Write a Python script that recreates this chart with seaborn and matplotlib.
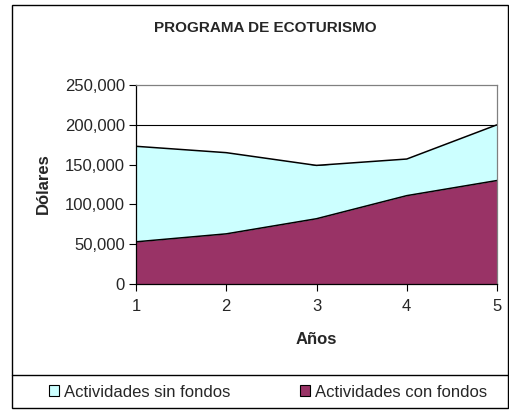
import matplotlib
matplotlib.use('Agg')
import matplotlib.pyplot as plt
import seaborn as sns
import pandas as pd
from matplotlib.patches import Rectangle
from matplotlib.lines import Line2D
from matplotlib.ticker import FuncFormatter

anios = [1, 2, 3, 4, 5]
sin_fondos = [173000, 165000, 149000, 157000, 200000]
con_fondos = [53000, 63000, 82000, 111000, 130000]
series = ['Actividades sin fondos', 'Actividades con fondos']
colores = ['#CCFFFF', '#993366']

df = pd.DataFrame({'anio': anios, series[0]: sin_fondos, series[1]: con_fondos})
largo = df.melt(id_vars='anio', var_name='serie', value_name='dolares')

sns.set_style('white')
plt.rcParams['font.family'] = ['Liberation Sans', 'DejaVu Sans']

fig = plt.figure(figsize=(5.1, 4.11), dpi=100)
ax = fig.add_axes([136/510, 1-284/411, (497-136)/510, (284-85)/411])

# grid lines behind the areas
for v in [50000, 100000, 150000, 200000]:
    ax.axhline(v, color='black', lw=0.8, zorder=0)

for s, c in zip(series, colores):
    ax.fill_between(df['anio'], df[s], 0, color=c, lw=0, zorder=1)
sns.lineplot(data=largo, x='anio', y='dolares', hue='serie', palette=['black', 'black'],
             lw=1.1, legend=False, ax=ax, zorder=2)

ax.set_xlim(1, 5)
ax.set_ylim(0, 250000)
ax.set_xticks(anios)
ax.set_yticks(range(0, 250001, 50000))
ax.yaxis.set_major_formatter(FuncFormatter(lambda v, p: f'{int(v):,}'))
ax.tick_params(axis='both', direction='out', length=5, width=0.8, color='black',
               labelsize=12, pad=3, left=True, bottom=True)
ax.tick_params(axis='x', pad=6)
for sp in ['left', 'bottom']:
    ax.spines[sp].set_color('black')
    ax.spines[sp].set_linewidth(0.9)
for sp in ['top', 'right']:
    ax.spines[sp].set_color('#808080')
    ax.spines[sp].set_linewidth(0.9)
ax.set_xlabel('')
ax.set_ylabel('')

fig.text(265/510, 1-28/411, 'PROGRAMA DE ECOTURISMO', ha='center', va='center',
         fontsize=11, fontweight='bold')
fig.text(43/510, 1-184/411, 'Dólares', ha='center', va='center', rotation=90,
         fontsize=12, fontweight='bold')
fig.text(316/510, 1-339/411, 'Años', ha='center', va='center',
         fontsize=12, fontweight='bold')

# outer frame and legend separator
fig.patches.append(Rectangle((12/510, 1-408/411), (508-12)/510, (408-5)/411,
                             transform=fig.transFigure, fill=False, ec='black', lw=1))
fig.lines.append(Line2D([12/510, 508/510], [1-375/411, 1-375/411],
                        transform=fig.transFigure, color='black', lw=1))

handles = [Rectangle((0, 0), 1, 1, fc=c, ec='black', lw=0.8) for c in colores]
fig.legend(handles, series, loc='center', bbox_to_anchor=(268/510, 1-392/411), ncol=2,
           frameon=False, fontsize=12, handlelength=0.6, handleheight=0.6,
           handletextpad=0.3, columnspacing=4.2)

fig.savefig('out.png', dpi=100)
